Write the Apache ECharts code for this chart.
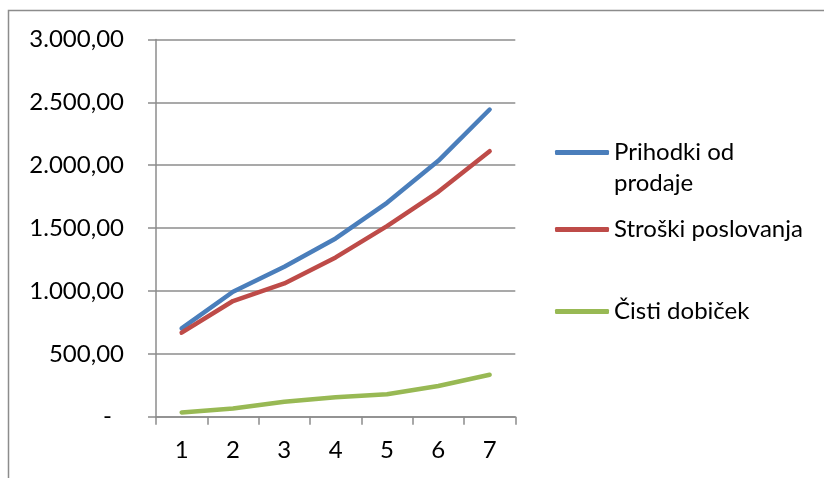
<!DOCTYPE html>
<html><head><meta charset="utf-8">
<script src="https://cdn.jsdelivr.net/npm/echarts@6/dist/echarts.min.js"></script>
<style>html,body{margin:0;padding:0;background:#fff}#c{width:824px;height:478px}</style>
</head><body><div id="c"></div>
<script>
const categories = ['1','2','3','4','5','6','7'];
const prihodki = [702, 994, 1193, 1418, 1701, 2035, 2443];
const stroski = [668, 920, 1060, 1267, 1516, 1789, 2112];
const dobicek = [34, 66, 119, 154, 178, 244, 334];
const seriesNames = ['Prihodki od prodaje', 'Stroški poslovanja', 'Čisti dobiček'];
const legendLabels = [' \nPrihodki od\nprodaje', 'Stroški poslovanja', 'Čisti dobiček'];
const yTicks = {min: 0, max: 3000, interval: 500};

const FONT = 'Lato';
function fmt(v) {
  if (v === 0) return '{z|-}';
  const parts = v.toFixed(2).split('.');
  const intPart = parts[0].replace(/\B(?=(\d{3})+(?!\d))/g, '.');
  return intPart + ',' + parts[1];
}
const chart = echarts.init(document.getElementById('c'), null, {renderer: 'canvas'});
const colors = ['#4A7EBB', '#BE4B48', '#98B954'];
const gridColor = '#8C8C8C';
function legendItem(i, top) {
  return {
    show: true, data: [seriesNames[i]], orient: 'vertical', left: 555, top: top,
    itemWidth: 54, itemHeight: 5, padding: 0,
    icon: 'roundRect',
    formatter: () => legendLabels[i],
    textStyle: {fontFamily: FONT, fontSize: 24, color: '#000', lineHeight: 31},
    itemStyle: {borderWidth: 0},
    selectedMode: false
  };
}
chart.setOption({
  animation: false,
  color: colors,
  graphic: [{
    type: 'rect', shape: {x: 8.5, y: 10.5, width: 900, height: 600},
    style: {fill: 'none', stroke: '#8C8C8C', lineWidth: 1.5}, silent: true
  }],
  grid: {left: 156, right: 308.7, top: 39.5, bottom: 61.3, containLabel: false},
  legend: [legendItem(0, 106), legendItem(1, 214), legendItem(2, 296)],
  xAxis: {
    type: 'category', data: categories, boundaryGap: true,
    axisLine: {show: true, lineStyle: {color: gridColor, width: 1.5}},
    axisTick: {show: true, length: 8, lineStyle: {color: gridColor, width: 1.5}},
    axisLabel: {fontFamily: FONT, fontSize: 24, color: '#000', margin: 22},
    splitLine: {show: false}
  },
  yAxis: {
    type: 'value', min: yTicks.min, max: yTicks.max, interval: yTicks.interval,
    axisLine: {show: true, lineStyle: {color: gridColor, width: 1.5}},
    axisTick: {show: true, length: 8, lineStyle: {color: gridColor, width: 1.5}},
    axisLabel: {fontFamily: FONT, fontSize: 24, color: '#000', margin: 32,
      formatter: fmt, rich: {z: {fontFamily: FONT, fontSize: 24, color: '#000', padding: [0, 12, 0, 0]}}},
    splitLine: {show: true, lineStyle: {color: gridColor, width: 1.5}}
  },
  series: [
    {name: seriesNames[0], type: 'line', data: prihodki, symbol: 'none', lineStyle: {width: 4.5, cap: 'round', join: 'round'}},
    {name: seriesNames[1], type: 'line', data: stroski, symbol: 'none', lineStyle: {width: 4.5, cap: 'round', join: 'round'}},
    {name: seriesNames[2], type: 'line', data: dobicek, symbol: 'none', lineStyle: {width: 4.5, cap: 'round', join: 'round'}}
  ]
});
</script></body></html>
